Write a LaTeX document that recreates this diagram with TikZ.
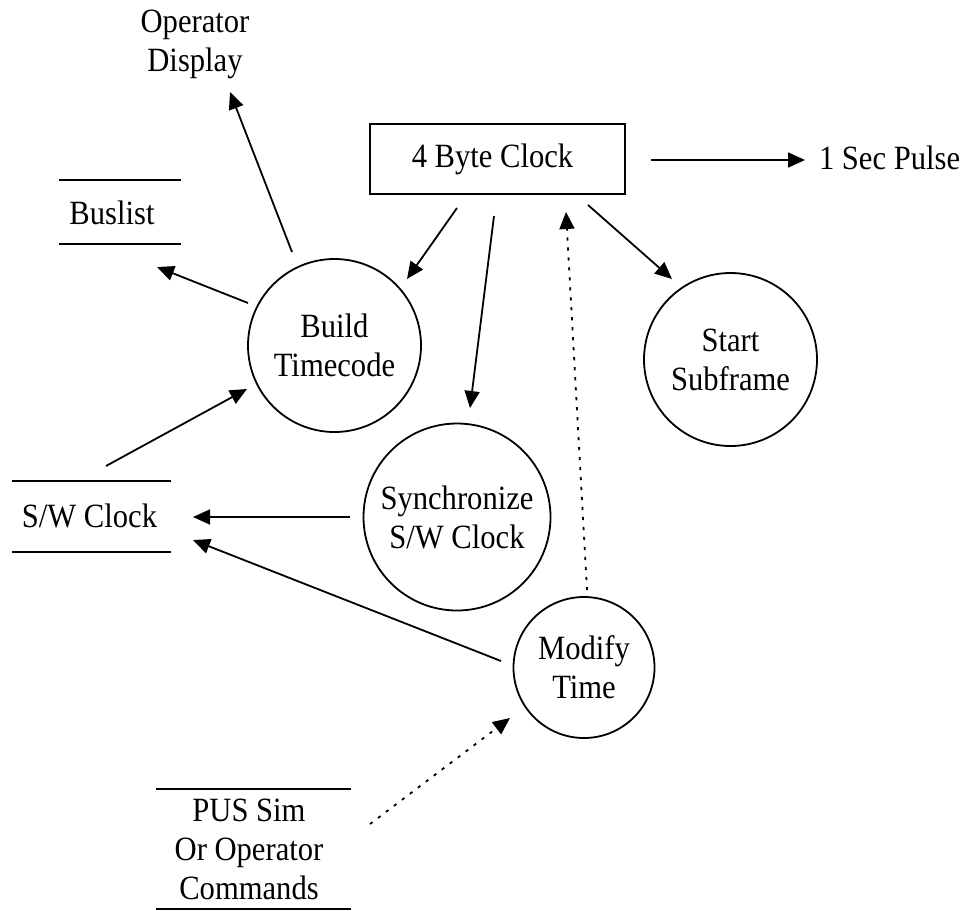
\documentclass[tikz,border=0pt]{standalone}
\usepackage{fontspec}
\setmainfont{Liberation Serif}[FakeStretch=0.9]
\usetikzlibrary{arrows.meta,calc}
\begin{document}
\begin{tikzpicture}[x=0.5pt,y=-0.5pt,
  every node/.style={font=\fontsize{17pt}{19.5pt}\selectfont, inner sep=0pt, outer sep=0pt},
  bubble/.style={draw, circle, line width=0.9pt, align=center},
  clockbox/.style={draw, rectangle, line width=0.9pt, minimum width=127.5pt, minimum height=35pt},
  plaintext/.style={align=center},
  flow/.style={line width=0.9pt, -{Triangle[length=8.5pt,width=7.5pt]}},
  cmdflow/.style={flow, dash pattern=on 1.6pt off 3.4pt},
  storeline/.style={line width=0.9pt}]

\useasboundingbox (0,0) rectangle (963,910);

% processes
\node[clockbox] (clock) at (497.5,159) {\hspace*{-5pt}4 Byte Clock};
\node[bubble, minimum size=86.5pt] (build) at (334.5,345.5) {Build\\Timecode};
\node[bubble, minimum size=93.5pt] (sync) at (457,517) {Synchronize\\S/W Clock};
\node[bubble, minimum size=70.5pt] (modify) at (584,667.5) {Modify\\Time};
\node[bubble, minimum size=86.5pt] (start) at (730.5,359.5) {Start\\Subframe};

% external entities and data stores
\node[plaintext] (opdisp) at (195,44) {Operator\\Display};
\node[anchor=base west] (pulse) at (819,169) {1 Sec Pulse};
\node[anchor=base] (buslist) at (112,224) {Buslist};
\node[anchor=base] (swclock) at (89.5,527) {S/W Clock};
\node[plaintext] (pus) at (249,849) {PUS Sim\\Or Operator\\Commands};

\draw[storeline] (59,180) -- (181,180) (59,244) -- (181,244);
\draw[storeline] (12,481) -- (171,481) (12,552) -- (171,552);
\draw[storeline] (156,789) -- (351,789) (156,909) -- (351,909);

% data flows
\draw[flow] ($(clock)+(153.5,1)$) -- ($(pulse.base west)+(-14,-9)$);
\draw[flow] ($(build)+(-42.5,-93.5)$) -- ($(opdisp)+(35,48)$);
\draw[flow] ($(build)+(-86.5,-42.5)$) -- ($(buslist.base)+(45,43)$);
\draw[flow] ($(swclock.base)+(16.5,-61)$) -- ($(build)+(-87.5,43.5)$);
\draw[flow] ($(clock)+(-40.5,49)$) -- ($(build)+(72.5,-66.5)$);
\draw[flow] ($(clock)+(-3.5,57)$) -- ($(sync)+(13,-109)$);
\draw[flow] ($(sync)+(-107,0)$) -- ($(swclock.base)+(103.5,-10)$);
\draw[flow] ($(modify)+(-83,-6.5)$) -- ($(swclock.base)+(103.5,13)$);
\draw[flow] ($(clock)+(90.5,46)$) -- ($(start)+(-58.5,-80.5)$);
\draw[cmdflow] ($(modify)+(3,-77.5)$) -- ($(clock)+(68.5,53)$);
\draw[cmdflow] ($(pus)+(121,-25)$) -- ($(modify)+(-74,50.5)$);

\end{tikzpicture}
\end{document}
